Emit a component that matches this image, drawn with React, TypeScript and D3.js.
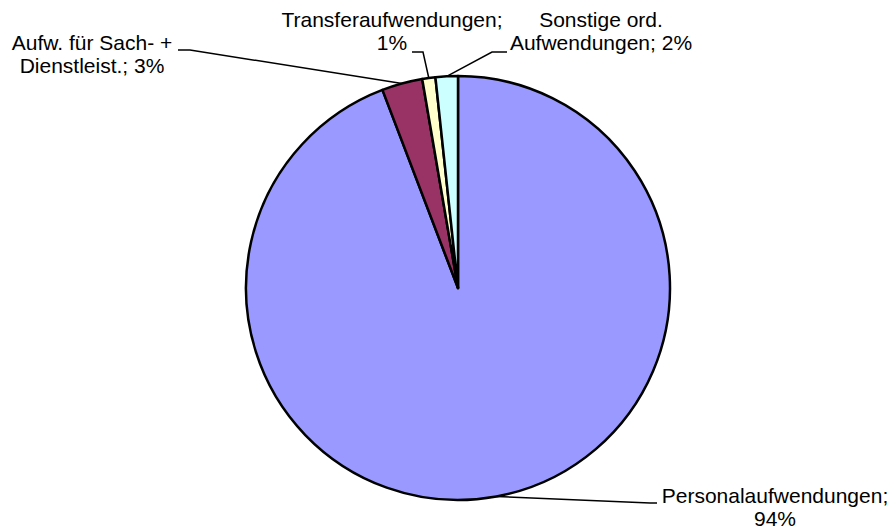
import * as d3 from 'd3';
import {useEffect, useRef} from "react";

// data
const categories = ["Personalaufwendungen", "Aufw. für Sach- + Dienstleist.", "Transferaufwendungen", "Sonstige ord. Aufwendungen"];
const values = [94.2, 3.1, 1.0, 1.7];
const colors = ["#9999FF", "#993366", "#FFFFCC", "#CCFFFF"];
// label text split in lines (the percent gets appended)
const labelLines = [
    ["Personalaufwendungen;", ""],
    ["Aufw. für Sach- +", "Dienstleist.; "],
    ["Transferaufwendungen;", ""],
    ["Sonstige ord.", "Aufwendungen; "]
];

export default function App(){

    const svgRef = useRef<SVGSVGElement>(null);

    const width = 893;
    const height = 532;
    const cx = 458, cy = 288, radius = 212;
    const fontSize = 21;
    const lineGap = 23;

    // where each label sits: text center x, first baseline y, leader elbow, leader end
    const labelPos = [
        {x: 775, y: 503, elbow: [650, 503], end: [657, 503]},
        {x: 92, y: 50, elbow: [190, 50], end: [178, 50]},
        {x: 392, y: 27, elbow: [423, 52], end: [412, 52]},
        {x: 601, y: 27, elbow: [492, 52], end: [507, 52]}
    ];

    useEffect(() => {
        const svg = d3.select(svgRef.current)
            .attr('width', width)
            .attr('height', height);

        svg.selectAll("*").remove();

        const total = d3.sum(values);
        const pct = (v: number) => Math.round(v / total * 100) + "%";

        const pie = d3.pie<number>().sort(null).value(d => d);
        const arcs = pie(values);

        const arc = d3.arc<d3.PieArcDatum<number>>()
            .innerRadius(0)
            .outerRadius(radius);

        const g = svg.append("g")
            .attr("transform", `translate(${cx},${cy})`);

        g.selectAll("path.slice")
            .data(arcs)
            .enter().append("path")
            .classed("slice", true)
            .attr("d", arc)
            .attr("fill", (d, i) => colors[i])
            .attr("stroke", "#000")
            .attr("stroke-width", 2.5)
            .attr("stroke-linejoin", "round");

        // leader lines from the slice edge at mid angle
        svg.selectAll("polyline.leader")
            .data(arcs)
            .enter().append("polyline")
            .classed("leader", true)
            .attr("points", (d, i) => {
                const mid = (d.startAngle + d.endAngle) / 2;
                const px = cx + radius * Math.sin(mid);
                const py = cy - radius * Math.cos(mid);
                const p = labelPos[i];
                return `${px},${py} ${p.elbow[0]},${p.elbow[1]} ${p.end[0]},${p.end[1]}`;
            })
            .attr("fill", "none")
            .attr("stroke", "#000")
            .attr("stroke-width", 1.5);

        const labels = svg.selectAll("text.label")
            .data(arcs)
            .enter().append("text")
            .classed("label", true)
            .attr("text-anchor", "middle")
            .attr("font-family", "Arial, 'Liberation Sans', sans-serif")
            .attr("font-size", fontSize)
            .attr("fill", "#000");

        labels.each(function(d, i) {
            const t = d3.select(this);
            const p = labelPos[i];
            labelLines[i].forEach((line, k) => {
                t.append("tspan")
                    .attr("x", p.x)
                    .attr("y", p.y + k * lineGap)
                    .text(k === 1 ? line + pct(d.data) : line);
            });
        });

        return () => {};
    }, []);

    return (
        <svg ref={svgRef} style={{position: "absolute", left: 0, top: 0, background: "#fff"}}
             viewBox="0 0 893 532"></svg>
    );
}
